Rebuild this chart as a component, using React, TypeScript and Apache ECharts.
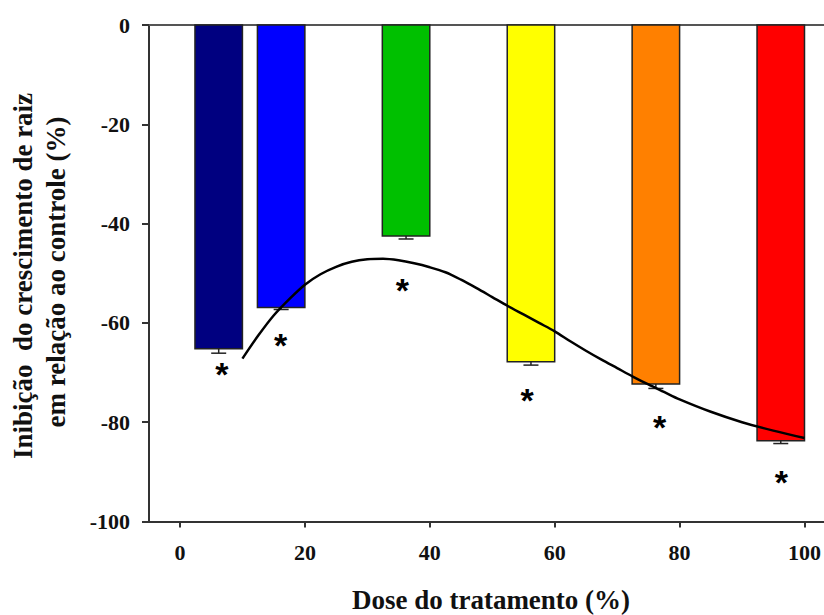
import React, { useEffect, useRef } from "react";
import * as echarts from "echarts";

// ---- data ----
const doses = [10, 20, 40, 60, 80, 100];
const inhibition = [-65.2, -56.9, -42.5, -67.8, -72.3, -83.75];
const stdErr = [0.9, 0.4, 0.6, 0.7, 0.9, 0.55];
const barColors = ["#000080", "#0000FF", "#00C000", "#FFFF00", "#FF8000", "#FF0000"];

const curveX = [10, 12.5, 15, 17.5, 20, 22.5, 25, 27.5, 30, 32.5, 35, 37.5, 40, 42.5, 45, 47.5, 50, 52.5, 55, 57.5, 60, 62.5, 65, 67.5, 70, 72.5, 75, 77.5, 80, 85, 90, 95, 100];
const curveY = [-67.2, -62.6, -58.5, -55.2, -52.3, -50.2, -48.7, -47.7, -47.2, -47.1, -47.4, -48.0, -48.8, -49.8, -51.3, -53.0, -54.8, -56.6, -58.3, -60.0, -61.7, -63.7, -65.6, -67.4, -69.1, -70.8, -72.4, -73.9, -75.4, -77.9, -80.0, -81.7, -83.2];

const starX = [6.7, 16.1, 35.6, 55.6, 76.8, 96.3];
const starY = [-68.8, -63.1, -52.0, -74.1, -79.5, -90.6];

const xTickValues = [0, 20, 40, 60, 80, 100];
const yTickInterval = 20;

const xTitle = "Dose do tratamento (%)";
const yTitleLine1 = "Inibição  do crescimento de raiz";
const yTitleLine2 = "em relação ao controle (%)";

const BAR_WIDTH_UNITS = 7.6;
const SERIF = '"Liberation Serif", "Times New Roman", serif';

export default function App() {
  const ref = useRef<HTMLDivElement>(null);

  useEffect(() => {
    document.body.style.margin = "0";
    if (!ref.current) return;
    const chart = echarts.init(ref.current, undefined, { renderer: "svg" });

    const axisColor = "#333";

    const option: any = {
      animation: false,
      backgroundColor: "#ffffff",
      grid: { left: 149, top: 25, right: 0, bottom: 93.5, containLabel: false },
      xAxis: [
        {
          type: "value",
          min: -4.96,
          max: 103.04,
          position: "bottom",
          axisLine: { show: true, onZero: false, lineStyle: { color: axisColor, width: 2 } },
          axisTick: { show: true, customValues: xTickValues, length: 6, lineStyle: { color: axisColor, width: 2 } },
          axisLabel: {
            show: true,
            customValues: xTickValues,
            margin: 20,
            fontFamily: SERIF,
            fontWeight: "bold",
            fontSize: 22,
            color: "#111",
          },
          splitLine: { show: false },
        },
        {
          type: "value",
          min: -4.96,
          max: 103.04,
          position: "top",
          axisLine: { show: true, onZero: false, lineStyle: { color: "#555", width: 2 } },
          axisTick: { show: false },
          axisLabel: { show: false },
          splitLine: { show: false },
        },
      ],
      yAxis: {
        type: "value",
        min: -100,
        max: 0,
        interval: yTickInterval,
        axisLine: { show: true, onZero: false, lineStyle: { color: axisColor, width: 2 } },
        axisTick: { show: true, length: 7, lineStyle: { color: axisColor, width: 2 } },
        axisLabel: {
          margin: 19,
          fontFamily: SERIF,
          fontWeight: "bold",
          fontSize: 22,
          color: "#111",
        },
        splitLine: { show: false },
      },
      series: [
        {
          type: "custom",
          name: "bars",
          z: 2,
          data: doses.map((d, i) => [d, inhibition[i], stdErr[i]]),
          renderItem: (params: any, api: any) => {
            const x = api.value(0);
            const v = api.value(1);
            const e = api.value(2);
            const p0 = api.coord([x - BAR_WIDTH_UNITS, 0]);
            const p1 = api.coord([x, v]);
            const c1 = api.coord([x - BAR_WIDTH_UNITS / 2, v]);
            const c2 = api.coord([x - BAR_WIDTH_UNITS / 2, v - e]);
            return {
              type: "group",
              children: [
                {
                  type: "rect",
                  shape: { x: p0[0], y: p0[1], width: p1[0] - p0[0], height: p1[1] - p0[1] },
                  style: { fill: barColors[params.dataIndex], stroke: "#222", lineWidth: 1.5 },
                },
                {
                  type: "line",
                  shape: { x1: c1[0], y1: c1[1], x2: c2[0], y2: c2[1] },
                  style: { stroke: "#222", lineWidth: 1.5 },
                },
                {
                  type: "line",
                  shape: { x1: c2[0] - 7.5, y1: c2[1], x2: c2[0] + 7.5, y2: c2[1] },
                  style: { stroke: "#222", lineWidth: 1.5 },
                },
              ],
            };
          },
        },
        {
          type: "line",
          name: "fit",
          z: 3,
          smooth: 0.3,
          symbol: "none",
          data: curveX.map((x, i) => [x, curveY[i]]),
          lineStyle: { color: "#000", width: 2.5 },
        },
        {
          type: "custom",
          name: "stars",
          z: 4,
          data: starX.map((x, i) => [x, starY[i]]),
          renderItem: (params: any, api: any) => {
            const p = api.coord([api.value(0), api.value(1)]);
            return {
              type: "text",
              x: p[0],
              y: p[1] + 7,
              style: {
                text: "*",
                fill: "#000",
                font: 'bold 34px "Liberation Sans", Arial, sans-serif',
                align: "center",
                verticalAlign: "middle",
              },
            };
          },
        },
      ],
      graphic: [
        {
          type: "text",
          x: 491,
          y: 600,
          style: {
            text: xTitle,
            fill: "#111",
            font: `bold 27px ${SERIF}`,
            align: "center",
            verticalAlign: "middle",
          },
        },
        {
          type: "text",
          x: 23,
          y: 276,
          rotation: Math.PI / 2,
          style: {
            text: yTitleLine1,
            fill: "#111",
            font: `bold 27px ${SERIF}`,
            align: "center",
            verticalAlign: "middle",
          },
        },
        {
          type: "text",
          x: 56,
          y: 272,
          rotation: Math.PI / 2,
          style: {
            text: yTitleLine2,
            fill: "#111",
            font: `bold 27px ${SERIF}`,
            align: "center",
            verticalAlign: "middle",
          },
        },
      ],
    };

    chart.setOption(option);
    return () => chart.dispose();
  }, []);

  return <div ref={ref} style={{ width: 824, height: 615 }} />;
}
